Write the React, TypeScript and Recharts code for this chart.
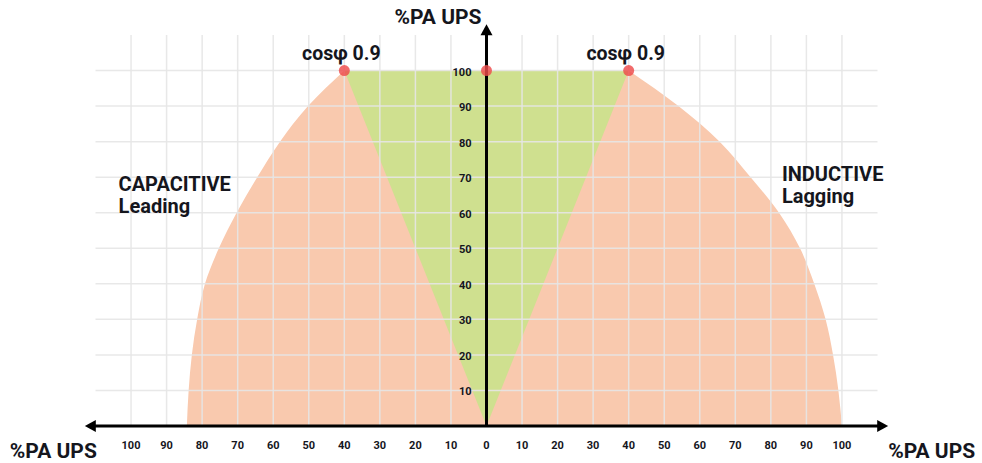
import React from "react";
import {
  ComposedChart, Area, XAxis, YAxis, ReferenceLine, ReferenceDot,
} from "recharts";

// livelli di potenza attiva (%PA UPS)
const levels = [0, 10, 20, 30, 40, 50, 60, 70, 80, 90, 100];
// limite capacitivo (leading) e induttivo (lagging) per ogni livello
const leadingLimit = [-84.3, -83.8, -82.9, -81.4, -79.2, -75.3, -70.3, -64.5, -58.1, -50.2, -40];
const laggingLimit = [100, 99, 97.5, 95.4, 92.2, 88.2, 82.3, 74.3, 65.6, 54, 40];
// triangolo cosφ 0.9 (solo ai due estremi)
const unityLevels = [0, 100];
const unityLeft = [0, -40];
const unityRight = [0, 40];

const xTicks = [-100, -90, -80, -70, -60, -50, -40, -30, -20, -10, 0, 10, 20, 30, 40, 50, 60, 70, 80, 90, 100];
const yTicks = [10, 20, 30, 40, 50, 60, 70, 80, 90, 100];
const gridX = xTicks.filter((v) => v !== 0);
const pfPoints = [
  { x: -40, y: 100, label: "cosφ 0.9" },
  { x: 0, y: 100, label: "" },
  { x: 40, y: 100, label: "cosφ 0.9" },
];

const FONT = "Roboto, 'Open Sans', sans-serif";
const INK = "#15161d";
const ORANGE = "#f9c9ae";
const GREEN = "#cfe08f";
const RED = "#ee4b4b";
const GRID = "#e6e6e6";

const rows = levels.map((y, i) => {
  const j = unityLevels.indexOf(y);
  return {
    y,
    ups: [leadingLimit[i], laggingLimit[i]],
    unity: j >= 0 ? [unityLeft[j], unityRight[j]] : [null, null],
  };
});

function Arrow({ x1, y1, x2, y2, both }: any) {
  const L = 11, W = 6;
  const len = Math.hypot(x2 - x1, y2 - y1) || 1;
  const ux = (x2 - x1) / len, uy = (y2 - y1) / len;
  const head = (tx: number, ty: number, dx: number, dy: number) => {
    const bx = tx - dx * L, by = ty - dy * L;
    return `${tx},${ty} ${bx - dy * W},${by + dx * W} ${bx + dy * W},${by - dx * W}`;
  };
  const sx = both ? x1 + ux * (L - 1) : x1;
  const sy = both ? y1 + uy * (L - 1) : y1;
  return (
    <g>
      <line x1={sx} y1={sy} x2={x2 - ux * (L - 1)} y2={y2 - uy * (L - 1)} stroke="#000" strokeWidth={3} />
      <polygon points={head(x2, y2, ux, uy)} fill="#000" />
      {both && <polygon points={head(x1, y1, -ux, -uy)} fill="#000" />}
    </g>
  );
}

function Note({ cx, cy, dx = 0, dy = 0, lines, anchor = "start", size = 20, lh = 22 }: any) {
  return (
    <text x={cx + dx} y={cy + dy} textAnchor={anchor} fontFamily={FONT} fontWeight={700}
      fontSize={size} fill={INK}>
      {lines.map((t: string, i: number) => (
        <tspan key={i} x={cx + dx} dy={i ? lh : 0}>{t}</tspan>
      ))}
    </text>
  );
}

export default function App() {
  return (
    <div style={{ position: "absolute", left: 0, top: 0, background: "#fff" }}>
      <ComposedChart layout="vertical" width={982} height={463} data={rows}
        margin={{ top: 35, right: 104.5, bottom: 7, left: 95.5 }}>
        <XAxis type="number" domain={[-110, 110]} allowDataOverflow ticks={xTicks} interval={0}
          tickFormatter={(v: number) => String(Math.abs(v))} axisLine={false} tickLine={false}
          tickMargin={9} height={30}
          tick={{ fill: INK, fontSize: 11, fontWeight: 700, fontFamily: FONT }} />
        <YAxis type="number" dataKey="y" domain={[0, 110]} allowDataOverflow reversed hide />

        <Area dataKey="ups" type="monotone" fill={ORANGE} fillOpacity={1} stroke="none"
          isAnimationActive={false} />
        <Area dataKey="unity" type="linear" connectNulls fill={GREEN} fillOpacity={1} stroke="none"
          isAnimationActive={false} />

        {gridX.map((v) => (
          <ReferenceLine key={"gx" + v} x={v} stroke={GRID} strokeWidth={1.5} strokeOpacity={0.9} />
        ))}
        {yTicks.map((v) => (
          <ReferenceLine key={"gy" + v} y={v} stroke={GRID} strokeWidth={1.5} strokeOpacity={0.9} />
        ))}

        {/* punti cosφ: semitrasparenti, la griglia resta visibile */}
        {pfPoints.map((p) => (
          <ReferenceDot key={"pf" + p.x} x={p.x} y={p.y} r={5.5} fill={RED} fillOpacity={0.82}
            stroke="none" ifOverflow="visible" />
        ))}

        {/* assi con frecce */}
        <ReferenceLine segment={[{ x: -113, y: 0 }, { x: 113, y: 0 }]} ifOverflow="visible"
          shape={(p: any) => <Arrow {...p} both />} />
        <ReferenceLine segment={[{ x: 0, y: 0 }, { x: 0, y: 113 }]} ifOverflow="visible"
          shape={(p: any) => <Arrow {...p} />} />

        {/* etichette asse verticale accanto all'asse centrale */}
        {yTicks.map((v) => (
          <ReferenceDot key={"yl" + v} x={0} y={v} r={0} ifOverflow="visible"
            shape={(p: any) => (
              <text x={p.cx - 15} y={p.cy + 5} textAnchor="end" fontFamily={FONT} fontWeight={700}
                fontSize={11} fill={INK}>{v}</text>
            )} />
        ))}

        {pfPoints.filter((p) => p.label).map((p) => (
          <ReferenceDot key={"pl" + p.x} x={p.x} y={p.y} r={0} ifOverflow="visible"
            shape={(q: any) => <Note {...q} dx={-3} dy={-10.5} anchor="middle" size={19.5} lines={[p.label]} />} />
        ))}

        <ReferenceDot x={-103.5} y={66} r={0} ifOverflow="visible"
          shape={(q: any) => <Note {...q} lines={["CAPACITIVE", "Leading"]} />} />
        <ReferenceDot x={83.1} y={69} r={0} ifOverflow="visible"
          shape={(q: any) => <Note {...q} lines={["INDUCTIVE", "Lagging"]} />} />

        <ReferenceDot x={0} y={113} r={0} ifOverflow="visible"
          shape={(q: any) => <Note {...q} dx={-5} anchor="end" size={21} lines={["%PA UPS"]} />} />
        <ReferenceDot x={-113} y={0} r={0} ifOverflow="visible"
          shape={(q: any) => <Note {...q} dx={-75} dy={32} size={21} lines={["%PA UPS"]} />} />
        <ReferenceDot x={113} y={0} r={0} ifOverflow="visible"
          shape={(q: any) => <Note {...q} dy={32} size={21} lines={["%PA UPS"]} />} />
      </ComposedChart>
    </div>
  );
}
